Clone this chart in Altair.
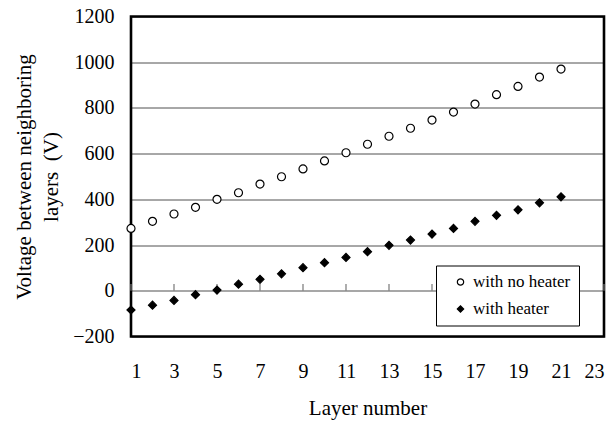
import altair as alt
import pandas as pd

layers = list(range(1, 22))
no_heater = [273, 304, 336, 365, 400, 429, 467, 499, 533, 568, 604, 641, 676, 711,
             747, 782, 817, 858, 894, 935, 970]
with_heater = [-84, -63, -42, -17, 3, 29, 50, 74, 101, 123, 146, 171, 199, 222,
               248, 273, 304, 330, 354, 385, 411]
series_names = ["with no heater", "with heater"]
x_domain = [1, 23]
y_domain = [-200, 1200]
x_ticks = list(range(1, 24, 2))
y_ticks = list(range(-200, 1201, 200))
tick_length_v = 30

df = pd.DataFrame({
    "layer": layers * 2,
    "voltage": no_heater + with_heater,
    "series": [series_names[0]] * len(layers) + [series_names[1]] * len(layers),
})
ticks_df = pd.DataFrame({"tick_x": x_ticks, "tick_lo": [0] * len(x_ticks),
                         "tick_hi": [tick_length_v] * len(x_ticks)})
frame_df = pd.DataFrame({"x0": [x_domain[0]], "x1": [x_domain[1]],
                         "y0": [y_domain[0]], "y1": [y_domain[1]]})

FONT = "Liberation Serif"
x_scale = alt.Scale(domain=x_domain, nice=False, zero=False)
y_scale = alt.Scale(domain=y_domain, nice=False, zero=False)

x_axis = alt.Axis(values=x_ticks, grid=False, ticks=False, domain=False, format="d",
                  labelPadding=25, labelFont=FONT, labelFontSize=20, labelColor="black",
                  title="Layer number", titleFont=FONT, titleFontSize=21,
                  titleFontWeight="normal", titleColor="black", titlePadding=16)
y_axis = alt.Axis(values=y_ticks, grid=True,
                  gridColor={"condition": {"test": "datum.value === 0", "value": "#8a8a8a"},
                             "value": "#505050"},
                  gridWidth={"condition": {"test": "datum.value === 0", "value": 1.6},
                             "value": 1},
                  format="d",
                  tickSize=0, labelPadding=17, labelFont=FONT, labelFontSize=20,
                  labelColor="black", domain=False,
                  title=["Voltage between neighboring", "layers\u00a0\u00a0(V)"],
                  titleFont=FONT, titleFontSize=21, titleFontWeight="normal",
                  titleColor="black", titlePadding=11, titleLineHeight=27)


def make_legend():
    return alt.Legend(orient="none", legendX=305, legendY=249, title=None,
                      strokeColor="black", fillColor="white", padding=8,
                      labelFont=FONT, labelFontSize=17, labelColor="black",
                      symbolSize=40, rowPadding=9, symbolOffset=8,
                      labelOffset=4, symbolStrokeWidth=1.2)


frame = alt.Chart(frame_df).mark_rect(fillOpacity=0, stroke="black",
                                      strokeWidth=2.6).encode(
    x=alt.X("x0:Q", scale=x_scale, axis=x_axis),
    x2="x1:Q",
    y=alt.Y("y0:Q", scale=y_scale, axis=y_axis),
    y2="y1:Q",
)

ticks = alt.Chart(ticks_df).mark_rule(color="#777777", strokeWidth=1.2).encode(
    x=alt.X("tick_x:Q", scale=x_scale, axis=x_axis),
    y=alt.Y("tick_lo:Q", scale=y_scale, axis=y_axis),
    y2=alt.Y2("tick_hi:Q"),
)

points = alt.Chart(df).mark_point(filled=True, strokeWidth=1.2, size=64, opacity=1).encode(
    x=alt.X("layer:Q", scale=x_scale, axis=x_axis),
    y=alt.Y("voltage:Q", scale=y_scale, axis=y_axis),
    shape=alt.Shape("series:N", scale=alt.Scale(domain=series_names, range=["circle", "diamond"]),
                    legend=make_legend()),
    fill=alt.Fill("series:N", scale=alt.Scale(domain=series_names, range=["white", "black"]),
                  legend=make_legend()),
    stroke=alt.Stroke("series:N", scale=alt.Scale(domain=series_names, range=["black", "black"]),
                      legend=make_legend()),
)

chart = alt.layer(frame, ticks, points).properties(
    width=473, height=320,
    background="white",
    autosize=alt.AutoSizeParams(type="none"),
    padding={"left": 123, "top": 8.5, "right": 4, "bottom": 86},
).configure_view(stroke=None)

chart.save("out.html", embed_options={"renderer": "svg", "actions": False})
